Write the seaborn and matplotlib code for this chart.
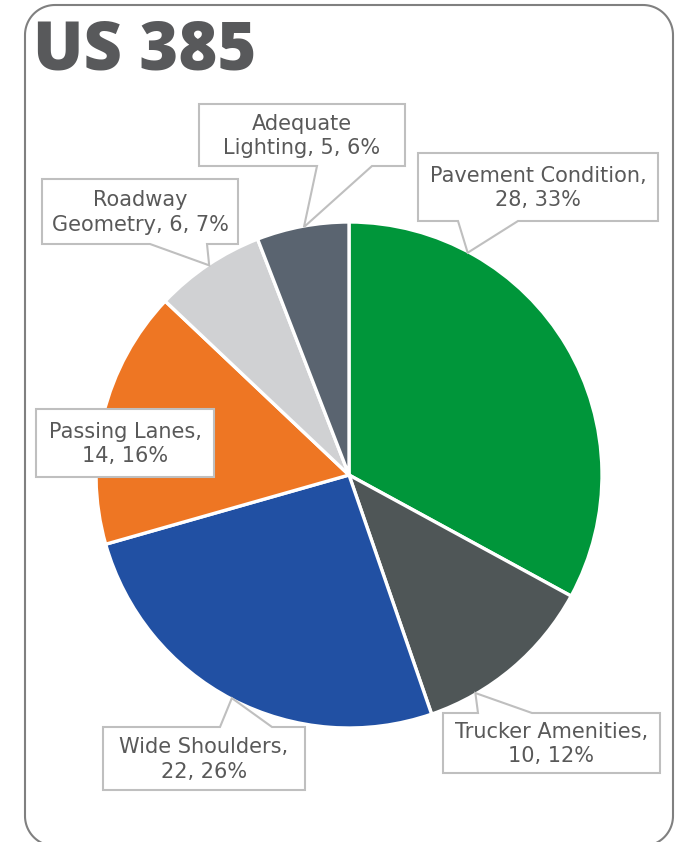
import numpy as np
import matplotlib
matplotlib.use("Agg")
import matplotlib.pyplot as plt
from matplotlib.patches import Polygon
import seaborn as sns

# ---- data ----
title = "US 385"
categories = ["Pavement Condition", "Trucker Amenities", "Wide Shoulders",
              "Passing Lanes", "Roadway Geometry", "Adequate Lighting"]
counts = [28, 10, 22, 14, 6, 5]
colors = ["#00963A", "#4F5657", "#2150A3", "#EE7623", "#D0D1D3", "#5A6470"]

sns.set_theme(style="white")
plt.rcParams["font.family"] = ["DejaVu Sans"]

W, H = 684, 842
fig = plt.figure(figsize=(W / 100, H / 100), dpi=100)

# pie geometry in pixels
cx, cy, R = 349, 475, 253
ax = fig.add_axes([(cx - R) / W, (H - cy - R) / H, 2 * R / W, 2 * R / H])
palette = sns.color_palette(colors)
ax.pie(counts, colors=palette, startangle=90, counterclock=False, radius=1,
       wedgeprops=dict(edgecolor="white", linewidth=2.4))
ax.set_xlim(-1, 1)
ax.set_ylim(-1, 1)
ax.set_aspect("equal")
ax.axis("off")

# overlay in pixel coordinates for frame, title and callouts
ov = fig.add_axes([0, 0, 1, 1], zorder=5)
ov.set_xlim(0, W)
ov.set_ylim(H, 0)
ov.axis("off")
ov.patch.set_alpha(0)


def rounded_rect(x0, y0, x1, y1, r, n=24):
    pts = []
    corners = [(x1 - r, y0 + r, -90, 0), (x1 - r, y1 - r, 0, 90),
               (x0 + r, y1 - r, 90, 180), (x0 + r, y0 + r, 180, 270)]
    for ccx, ccy, a0, a1 in corners:
        a = np.deg2rad(np.linspace(a0, a1, n))
        pts += list(zip(ccx + r * np.cos(a), ccy + r * np.sin(a)))
    return pts


ov.add_patch(Polygon(rounded_rect(25, 5, 673, 846, 30), closed=True, fill=False,
                     edgecolor="#808080", linewidth=1.5, clip_on=False))

ov.text(33, 70, title, fontsize=48, fontweight="heavy", color="#58595B",
        family=["Open Sans", "DejaVu Sans"], ha="left", va="baseline")

total = sum(counts)
two_line_names = {"Roadway Geometry", "Adequate Lighting"}

# callout boxes: (x0, x1, y0, y1), pointer side, pointer base, tip angle (deg clockwise from top)
callouts = {
    "Pavement Condition": ((418, 658, 153, 221), "bottom", (458, 518), 28.1),
    "Trucker Amenities": ((443, 660, 713, 773), "top", (478, 532), 149.9),
    "Wide Shoulders": ((103, 305, 727, 790), "top", (220, 272), 207.7),
    "Passing Lanes": ((36, 214, 409, 477), None, None, None),
    "Roadway Geometry": ((42, 238, 179, 244), "bottom", (150, 207), 326.3),
    "Adequate Lighting": ((199, 405, 104, 166), "bottom", (317, 372), 349.7),
}

for name, v in zip(categories, counts):
    pct = round(v / total * 100)
    if name in two_line_names:
        first, rest = name.split(" ", 1)
        label = f"{first}\n{rest}, {v}, {pct}%"
    else:
        label = f"{name},\n{v}, {pct}%"
    (x0, x1, y0, y1), side, base, ang = callouts[name]
    if side is None:
        pts = [(x0, y0), (x1, y0), (x1, y1), (x0, y1)]
    else:
        t = np.deg2rad(ang)
        tip = (cx + (R - 1) * np.sin(t), cy - (R - 1) * np.cos(t))
        if side == "bottom":
            pts = [(x0, y0), (x1, y0), (x1, y1), (base[1], y1), tip,
                   (base[0], y1), (x0, y1)]
        else:
            pts = [(x0, y0), (base[0], y0), tip, (base[1], y0), (x1, y0),
                   (x1, y1), (x0, y1)]
    ov.add_patch(Polygon(pts, closed=True, facecolor="white", edgecolor="#BFBFBF",
                         linewidth=1.5, joinstyle="miter"))
    ov.text((x0 + x1) / 2, (y0 + y1) / 2 + 1, label, ha="center", va="center",
            fontsize=15, color="#595959", linespacing=1.3)

fig.savefig("out.png", dpi=100)
